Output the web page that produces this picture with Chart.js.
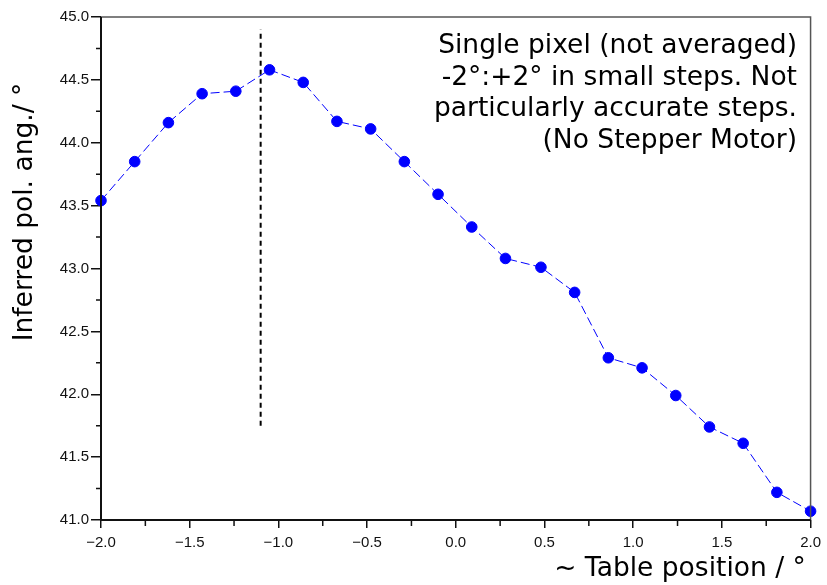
<!DOCTYPE html>
<html>
<head>
<meta charset="utf-8">
<script src="https://cdn.jsdelivr.net/npm/chart.js@4.4.0/dist/chart.umd.min.js"></script>
<style>
  html, body { margin: 0; padding: 0; background: #fff; }
  #wrap { width: 827px; height: 585px; }
</style>
</head>
<body>
<div id="wrap"><canvas id="polChart" width="827" height="585"></canvas></div>
<script>
// table position (deg) and inferred polarisation angle (deg)
const tablePos = [-2.0, -1.81, -1.62, -1.43, -1.24, -1.05, -0.86, -0.67, -0.48, -0.29, -0.10,
                  0.09, 0.28, 0.48, 0.67, 0.86, 1.05, 1.24, 1.43, 1.62, 1.81, 2.0];
const inferredAng = [43.54, 43.85, 44.16, 44.39, 44.41, 44.58, 44.48, 44.17, 44.11, 43.85, 43.59,
                     43.33, 43.08, 43.01, 42.81, 42.29, 42.21, 41.99, 41.74, 41.61, 41.22, 41.07];
// vertical dashed marker
const markerX = [-1.1, -1.1];
const markerY = [41.75, 44.9];
const noteLines = ['Single pixel (not averaged)', '-2°:+2° in small steps. Not',
                   'particularly accurate steps.', '(No Stepper Motor)'];
const xTitle = '~ Table position / °';
const yTitle = 'Inferred pol. ang./ °';

const isMajor = v => Math.abs(v * 2 - Math.round(v * 2)) < 1e-6;
const fmt = v => {
  let s = Math.abs(v).toFixed(1);
  return v < -1e-9 ? '\u2212' + s : s;
};

const extras = {
  id: 'extras',
  afterDraw(chart) {
    const ctx = chart.ctx, a = chart.chartArea;
    const xs = chart.scales.x, ys = chart.scales.y;
    ctx.save();
    // minor ticks
    ctx.strokeStyle = '#111';
    ctx.lineWidth = 1.5;
    ctx.beginPath();
    xs.ticks.forEach(t => {
      if (isMajor(t.value)) return;
      const px = xs.getPixelForValue(t.value);
      ctx.moveTo(px, a.bottom); ctx.lineTo(px, a.bottom + 6);
    });
    ys.ticks.forEach(t => {
      if (isMajor(t.value)) return;
      const py = ys.getPixelForValue(t.value);
      ctx.moveTo(a.left, py); ctx.lineTo(a.left - 5, py);
    });
    ctx.stroke();

    // frame
    ctx.strokeStyle = '#555';
    ctx.lineWidth = 1.5;
    ctx.beginPath();
    ctx.moveTo(a.left, a.top); ctx.lineTo(a.right, a.top); ctx.lineTo(a.right, a.bottom);
    ctx.stroke();
    ctx.strokeStyle = '#111';
    ctx.lineWidth = 2;
    ctx.beginPath();
    ctx.moveTo(a.left, a.top); ctx.lineTo(a.left, a.bottom); ctx.lineTo(a.right, a.bottom);
    ctx.stroke();

    // note + axis titles
    ctx.fillStyle = '#000';
    ctx.font = '26.5px "DejaVu Sans"';
    ctx.textAlign = 'right';
    ctx.textBaseline = 'alphabetic';
    noteLines.forEach((t, i) => ctx.fillText(t, 797, 53 + i * 31.7));

    ctx.textAlign = 'center';
    ctx.fillText(xTitle, 680, 576);
    ctx.translate(32, 212);
    ctx.rotate(-Math.PI / 2);
    ctx.fillText(yTitle, 0, 0);
    ctx.restore();
  }
};

const tickFont = { family: '"Liberation Sans"', size: 15 };

new Chart(document.getElementById('polChart'), {
  type: 'scatter',
  data: {
    datasets: [
      {
        label: 'angle',
        data: tablePos.map((x, i) => ({ x: x, y: inferredAng[i] })),
        showLine: true,
        borderColor: '#0000ff',
        borderWidth: 1,
        borderDash: [9, 4],
        backgroundColor: '#0000ff',
        pointRadius: 5.3,
        pointHoverRadius: 5.3,
        clip: false
      },
      {
        label: 'marker',
        data: markerX.map((x, i) => ({ x: x, y: markerY[i] })),
        showLine: true,
        borderColor: '#000',
        borderWidth: 2,
        borderDash: [5, 4],
        pointRadius: 0
      }
    ]
  },
  options: {
    responsive: false,
    animation: false,
    layout: { padding: { top: 17, right: 15, left: 0, bottom: 0 } },
    plugins: { legend: { display: false }, tooltip: { enabled: false } },
    scales: {
      x: {
        type: 'linear', min: -2, max: 2,
        afterFit: s => { s.height = 65; },
        border: { display: false },
        grid: {
          drawOnChartArea: false, tickLength: 8, lineWidth: 1.5,
          tickColor: c => (isMajor(c.tick.value) ? '#111' : 'rgba(0,0,0,0)')
        },
        ticks: {
          stepSize: 0.25, autoSkip: false, maxRotation: 0, padding: 6,
          color: '#111', font: tickFont,
          callback: v => (isMajor(v) ? fmt(v) : '')
        }
      },
      y: {
        type: 'linear', min: 41, max: 45,
        afterFit: s => { s.width = 101; },
        border: { display: false },
        grid: {
          drawOnChartArea: false, tickLength: 10, lineWidth: 1.5,
          tickColor: c => (isMajor(c.tick.value) ? '#111' : 'rgba(0,0,0,0)')
        },
        ticks: {
          stepSize: 0.25, autoSkip: false, padding: 2,
          color: '#111', font: tickFont,
          callback: v => (isMajor(v) ? fmt(v) : '')
        }
      }
    }
  },
  plugins: [extras]
});
</script>
</body>
</html>
